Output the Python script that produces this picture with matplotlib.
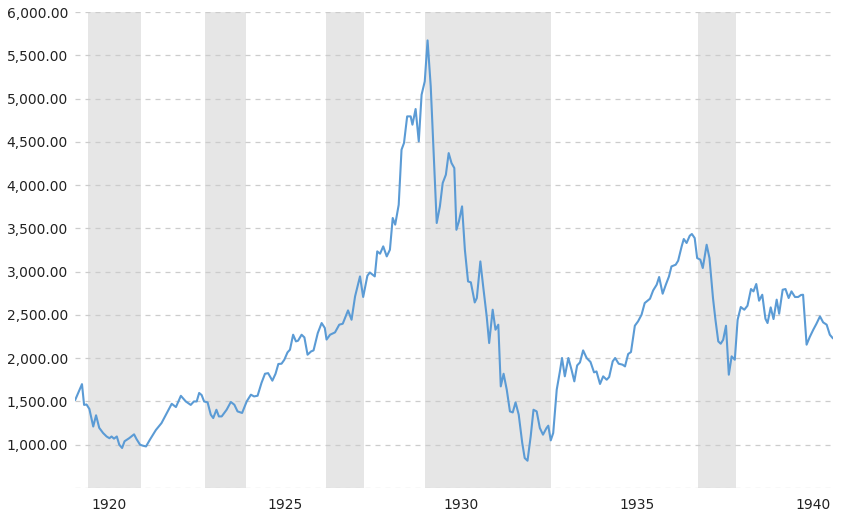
import matplotlib
matplotlib.use("Agg")
import matplotlib.pyplot as plt
from matplotlib.ticker import FuncFormatter

# time in decimal years
t = [1919.64, 1919.83, 1919.89, 1919.96, 1920.04, 1920.15, 1920.23, 1920.32, 1920.43, 1920.53,
     1920.61, 1920.67, 1920.74, 1920.82, 1920.89, 1920.97, 1921.04, 1921.17, 1921.31, 1921.38,
     1921.48, 1921.55, 1921.65, 1921.76, 1921.93, 1922.09, 1922.24, 1922.38, 1922.50, 1922.64,
     1922.78, 1922.92, 1923.01, 1923.09, 1923.16, 1923.23, 1923.30, 1923.40, 1923.49, 1923.56,
     1923.65, 1923.72, 1923.80, 1923.94, 1924.06, 1924.16, 1924.25, 1924.38, 1924.51, 1924.63,
     1924.72, 1924.82, 1924.93, 1925.03, 1925.12, 1925.24, 1925.33, 1925.41, 1925.50, 1925.58,
     1925.67, 1925.74, 1925.83, 1925.91, 1925.97, 1926.07, 1926.15, 1926.24, 1926.34, 1926.41,
     1926.53, 1926.64, 1926.73, 1926.78, 1926.88, 1927.02, 1927.14, 1927.24, 1927.39, 1927.49,
     1927.59, 1927.73, 1927.82, 1927.94, 1928.01, 1928.15, 1928.22, 1928.30, 1928.39, 1928.49,
     1928.58, 1928.66, 1928.73, 1928.83, 1928.91, 1928.98, 1929.07, 1929.17, 1929.22, 1929.31,
     1929.40, 1929.48, 1929.57, 1929.65, 1929.74, 1929.83, 1929.91, 1930.00, 1930.08, 1930.17,
     1930.25, 1930.33, 1930.41, 1930.47, 1930.54, 1930.63, 1930.71, 1930.80, 1930.88, 1930.99,
     1931.05, 1931.15, 1931.23, 1931.33, 1931.40, 1931.50, 1931.58, 1931.66, 1931.73, 1931.81,
     1931.90, 1931.99, 1932.07, 1932.15, 1932.24, 1932.34, 1932.41, 1932.49, 1932.58, 1932.66,
     1932.75, 1932.84, 1932.93, 1933.03, 1933.08, 1933.15, 1933.22, 1933.32, 1933.41, 1933.47,
     1933.55, 1933.65, 1933.74, 1933.82, 1933.90, 1933.98, 1934.07, 1934.17, 1934.28, 1934.38,
     1934.45, 1934.55, 1934.64, 1934.74, 1934.81, 1934.91, 1934.98, 1935.08, 1935.19, 1935.26,
     1935.35, 1935.43, 1935.54, 1935.63, 1935.73, 1935.82, 1935.97, 1936.06, 1936.16, 1936.23,
     1936.33, 1936.42, 1936.51, 1936.58, 1936.70, 1936.77, 1936.87, 1936.93, 1937.01, 1937.10,
     1937.16, 1937.24, 1937.31, 1937.40, 1937.47, 1937.58, 1937.66, 1937.76, 1937.83, 1937.91,
     1937.98, 1938.05, 1938.13, 1938.21, 1938.29, 1938.38, 1938.46, 1938.55, 1938.65, 1938.74,
     1938.84, 1938.91, 1938.99, 1939.07, 1939.16, 1939.25, 1939.31, 1939.40, 1939.48, 1939.57,
     1939.64, 1939.74, 1939.82, 1939.91, 1939.99, 1940.09, 1940.18, 1940.26, 1940.32, 1940.42,
     1940.51, 1940.61, 1940.70, 1940.80, 1940.89, 1940.99, 1941.08, 1941.16]

dow = [1520, 1700, 1460, 1465, 1413, 1210, 1340, 1195, 1135, 1095,
       1075, 1095, 1070, 1095, 1000, 962, 1040, 1075, 1120, 1065,
       1000, 990, 980, 1058, 1170, 1250, 1365, 1473, 1435, 1565,
       1500, 1460, 1500, 1500, 1598, 1574, 1500, 1489, 1347, 1308,
       1404, 1327, 1327, 1404, 1494, 1462, 1385, 1367, 1500, 1578,
       1558, 1566, 1713, 1820, 1827, 1740, 1820, 1933, 1936, 1982,
       2067, 2098, 2271, 2194, 2202, 2271, 2240, 2040, 2078, 2090,
       2290, 2406, 2349, 2215, 2271, 2298, 2387, 2398, 2552, 2444,
       2714, 2945, 2707, 2953, 2990, 2945, 3234, 3207, 3292, 3176,
       3253, 3620, 3543, 3773, 4409, 4486, 4794, 4794, 4698, 4879,
       4505, 5044, 5198, 5672, 5140, 4293, 3562, 3754, 4024, 4120,
       4370, 4255, 4197, 3484, 3580, 3754, 3253, 2887, 2876, 2644,
       2695, 3118, 2829, 2483, 2175, 2560, 2329, 2387, 1674, 1820,
       1636, 1385, 1373, 1489, 1347, 1020, 846, 815, 1096, 1404,
       1385, 1193, 1116, 1193, 1220, 1050, 1135, 1636, 1847, 2002,
       1790, 2002, 1867, 1732, 1916, 1951, 2090, 2002, 1956, 1836,
       1847, 1702, 1790, 1751, 1782, 1963, 2002, 1936, 1925, 1905,
       2048, 2071, 2375, 2425, 2502, 2637, 2687, 2783, 2849, 2938,
       2745, 2849, 2945, 3060, 3080, 3126, 3292, 3377, 3331, 3415,
       3435, 3388, 3157, 3138, 3042, 3311, 3157, 2695, 2444, 2194,
       2167, 2213, 2375, 1809, 2021, 1982, 2444, 2591, 2560, 2606,
       2799, 2772, 2857, 2664, 2733, 2456, 2406, 2587, 2452, 2676,
       2514, 2791, 2799, 2695, 2772, 2707, 2707, 2730, 2733, 2156,
       2245, 2329, 2398, 2483, 2414, 2387, 2271, 2233]

# recession periods (decimal years)
rec_start = [1920.0, 1923.33, 1926.75, 1929.58, 1937.33]
rec_end = [1921.5, 1924.5, 1927.83, 1933.17, 1938.42]

year_labels = [1920, 1925, 1930, 1935, 1940]
y_ticks = [500, 1000, 1500, 2000, 2500, 3000, 3500, 4000, 4500, 5000, 5500, 6000]

fig = plt.figure(figsize=(8.42, 5.16), dpi=100)
ax = fig.add_axes([0.089, 0.0543, 0.9003, 0.9224])

for s, e in zip(rec_start, rec_end):
    ax.axvspan(s, e, color="#e6e6e6", lw=0, zorder=0)

ax.plot(t, dow, color="#5b9bd5", lw=1.5, zorder=3)

ax.set_xlim(1919.63, 1941.17)
ax.set_ylim(500, 6000)

ax.set_yticks(y_ticks)
ax.yaxis.set_major_formatter(FuncFormatter(lambda v, p: "" if v < 1000 else f"{v:,.2f}"))
ax.set_xticks([y + 0.6 for y in year_labels])
ax.set_xticklabels([str(y) for y in year_labels])

ax.grid(axis="y", color="#cccccc", linestyle=(0, (4, 4)), lw=0.9, zorder=1)
ax.set_axisbelow(True)
for sp in ax.spines.values():
    sp.set_visible(False)
ax.tick_params(axis="both", length=0, labelsize=10, colors="#222222")
ax.tick_params(axis="y", pad=5)
ax.tick_params(axis="x", pad=7)

fig.savefig("out.png", dpi=100)
